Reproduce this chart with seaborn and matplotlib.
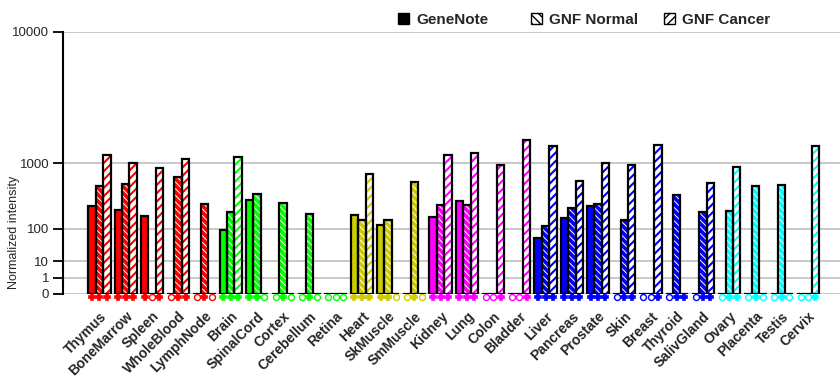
import numpy as np
import pandas as pd
import seaborn as sns
import matplotlib.pyplot as plt
from matplotlib.patches import Patch, Rectangle

# data
tissues = ['Thymus', 'BoneMarrow', 'Spleen', 'WholeBlood', 'LymphNode',
           'Brain', 'SpinalCord', 'Cortex', 'Cerebellum', 'Retina',
           'Heart', 'SkMuscle', 'SmMuscle',
           'Kidney', 'Lung', 'Colon', 'Bladder',
           'Liver', 'Pancreas', 'Prostate', 'Skin', 'Breast', 'Thyroid', 'SalivGland',
           'Ovary', 'Placenta', 'Testis', 'Cervix']
systems = ['blood'] * 5 + ['neural'] * 5 + ['muscle'] * 3 + ['epith'] * 4 + ['gland'] * 7 + ['repro'] * 4
nan = np.nan
genenote = [270, 233, 176, nan, nan, 93, 337, nan, nan, nan, 188, 121, nan, 173, 322,
            nan, nan, 61, 166, 270, nan, nan, nan, nan, nan, nan, nan, nan]
gnf_normal = [531, 566, nan, 692, 283, 207, 413, 293, 191, nan, 148, 152, 600, 279, 279,
              nan, nan, 114, 250, 283, 152, nan, 400, 207, 221, 531, 550, nan]
gnf_cancer = [1220, 1004, 884, 1108, nan, 1164, nan, nan, nan, nan, 754, nan, nan, 1213, 1271,
              955, 1702, 1489, 612, 995, 955, 1524, 0, 583, 906, nan, nan, 1500]
series_names = ['GeneNote', 'GNF Normal', 'GNF Cancer']
yticks = [0, 1, 10, 100, 1000, 10000]

sys_colors = {'blood': '#ff0000', 'neural': '#00ff00', 'muscle': '#cccc00',
              'epith': '#ff00ff', 'gland': '#0000ff', 'repro': '#00ffff'}

sns.set_style('white')
plt.rcParams['font.family'] = ['Liberation Sans', 'DejaVu Sans']
plt.rcParams['hatch.linewidth'] = 1.0

df = pd.DataFrame({
    'tissue': tissues * 3,
    'series': np.repeat(series_names, len(tissues)),
    'value': genenote + gnf_normal + gnf_cancer,
})
df['present'] = df['value'].notna()
df['value'] = df['value'].fillna(0)

fig = plt.figure(figsize=(8.4, 3.85), dpi=100)
ax = fig.add_axes([63 / 840, 1 - 294 / 385, 1 - 63 / 840, 262 / 385])

sns.barplot(data=df, x='tissue', y='value', hue='series', order=tissues,
            hue_order=series_names, width=0.85, errorbar=None, legend=False, ax=ax)

# y axis: each decade twice as tall as the one below
p = np.log10(2)
ax.set_yscale('function', functions=(lambda v: np.power(np.clip(v, 0, None), p),
                                     lambda v: np.power(np.clip(v, 0, None), 1 / p)))
ax.set_ylim(0, 10000)
ax.set_xlim(-1.39, 28.22)


def hatch_lw(bar, lw):
    if hasattr(bar, 'set_hatch_linewidth'):
        bar.set_hatch_linewidth(lw)
    else:
        bar._hatch_linewidth = lw


hatches = [None, '\\\\\\\\\\', '////']
for i, cont in enumerate(ax.containers):
    sub = df[df['series'] == series_names[i]].reset_index(drop=True)
    for j, bar in enumerate(cont):
        col = sys_colors[systems[j]]
        if i == 0:
            bar.set_facecolor(col)
        elif i == 1:
            bar.set_facecolor(col)
            bar.set_hatch(hatches[i])
            bar.set_edgecolor('white')
            hatch_lw(bar, 0.7)
        else:
            bar.set_facecolor('white')
            bar.set_hatch(hatches[i])
            bar.set_edgecolor(col)
            hatch_lw(bar, 1.5)
        bar.set_linewidth(0)
        ax.add_patch(Rectangle(bar.get_xy(), bar.get_width(), bar.get_height(),
                               fill=False, edgecolor='black', linewidth=1.6, zorder=3))
        # presence markers under the bars
        xc = bar.get_x() + bar.get_width() / 2
        if sub.loc[j, 'present']:
            ax.plot(xc, -0.012, marker='P', ms=4.2, color=col, mec=col, mew=1.2,
                    transform=ax.get_xaxis_transform(), clip_on=False)
        else:
            ax.plot(xc, -0.012, marker='o', ms=4.3, mfc='white', mec=col, mew=1,
                    transform=ax.get_xaxis_transform(), clip_on=False)

ax.set_yticks(yticks)
ax.set_yticklabels([str(t) for t in yticks], fontsize=9.5)
ax.yaxis.grid(True, color='#c0c0c0', linewidth=1.2)
ax.set_axisbelow(True)
ax.tick_params(axis='y', length=7, width=1.3, direction='out', color='black', pad=3, left=True)
ax.tick_params(axis='x', length=0, pad=11)
for lab in ax.get_xticklabels():
    lab.set_rotation(45)
    lab.set_ha('right')
    lab.set_va('top')
    lab.set_rotation_mode('anchor')
    lab.set_fontsize(10)
    lab.set_fontweight('bold')
ax.set_xlabel('')
ax.set_ylabel('')
for s in ['top', 'right', 'bottom']:
    ax.spines[s].set_visible(False)
ax.spines['left'].set_color('black')
ax.spines['left'].set_linewidth(1.5)

fig.text(14 / 840, 1 - 232 / 385, 'Normalized intensity', rotation=90,
         ha='center', va='center', fontsize=9)

# legend: three evenly placed entries
handles = [Patch(facecolor='black', edgecolor='black'),
           Patch(facecolor='white', edgecolor='black', hatch='\\\\\\\\'),
           Patch(facecolor='white', edgecolor='black', hatch='////')]
for h, name, x0 in zip(handles, series_names, [398, 531, 664]):
    fig.legend([h], [name], loc='center left', bbox_to_anchor=(x0 / 840, 1 - 20 / 385),
               frameon=False, borderpad=0, borderaxespad=0, handlelength=0.7,
               handleheight=0.7, handletextpad=0.5,
               prop={'weight': 'bold', 'size': 11})

fig.savefig('out.png', dpi=100)
